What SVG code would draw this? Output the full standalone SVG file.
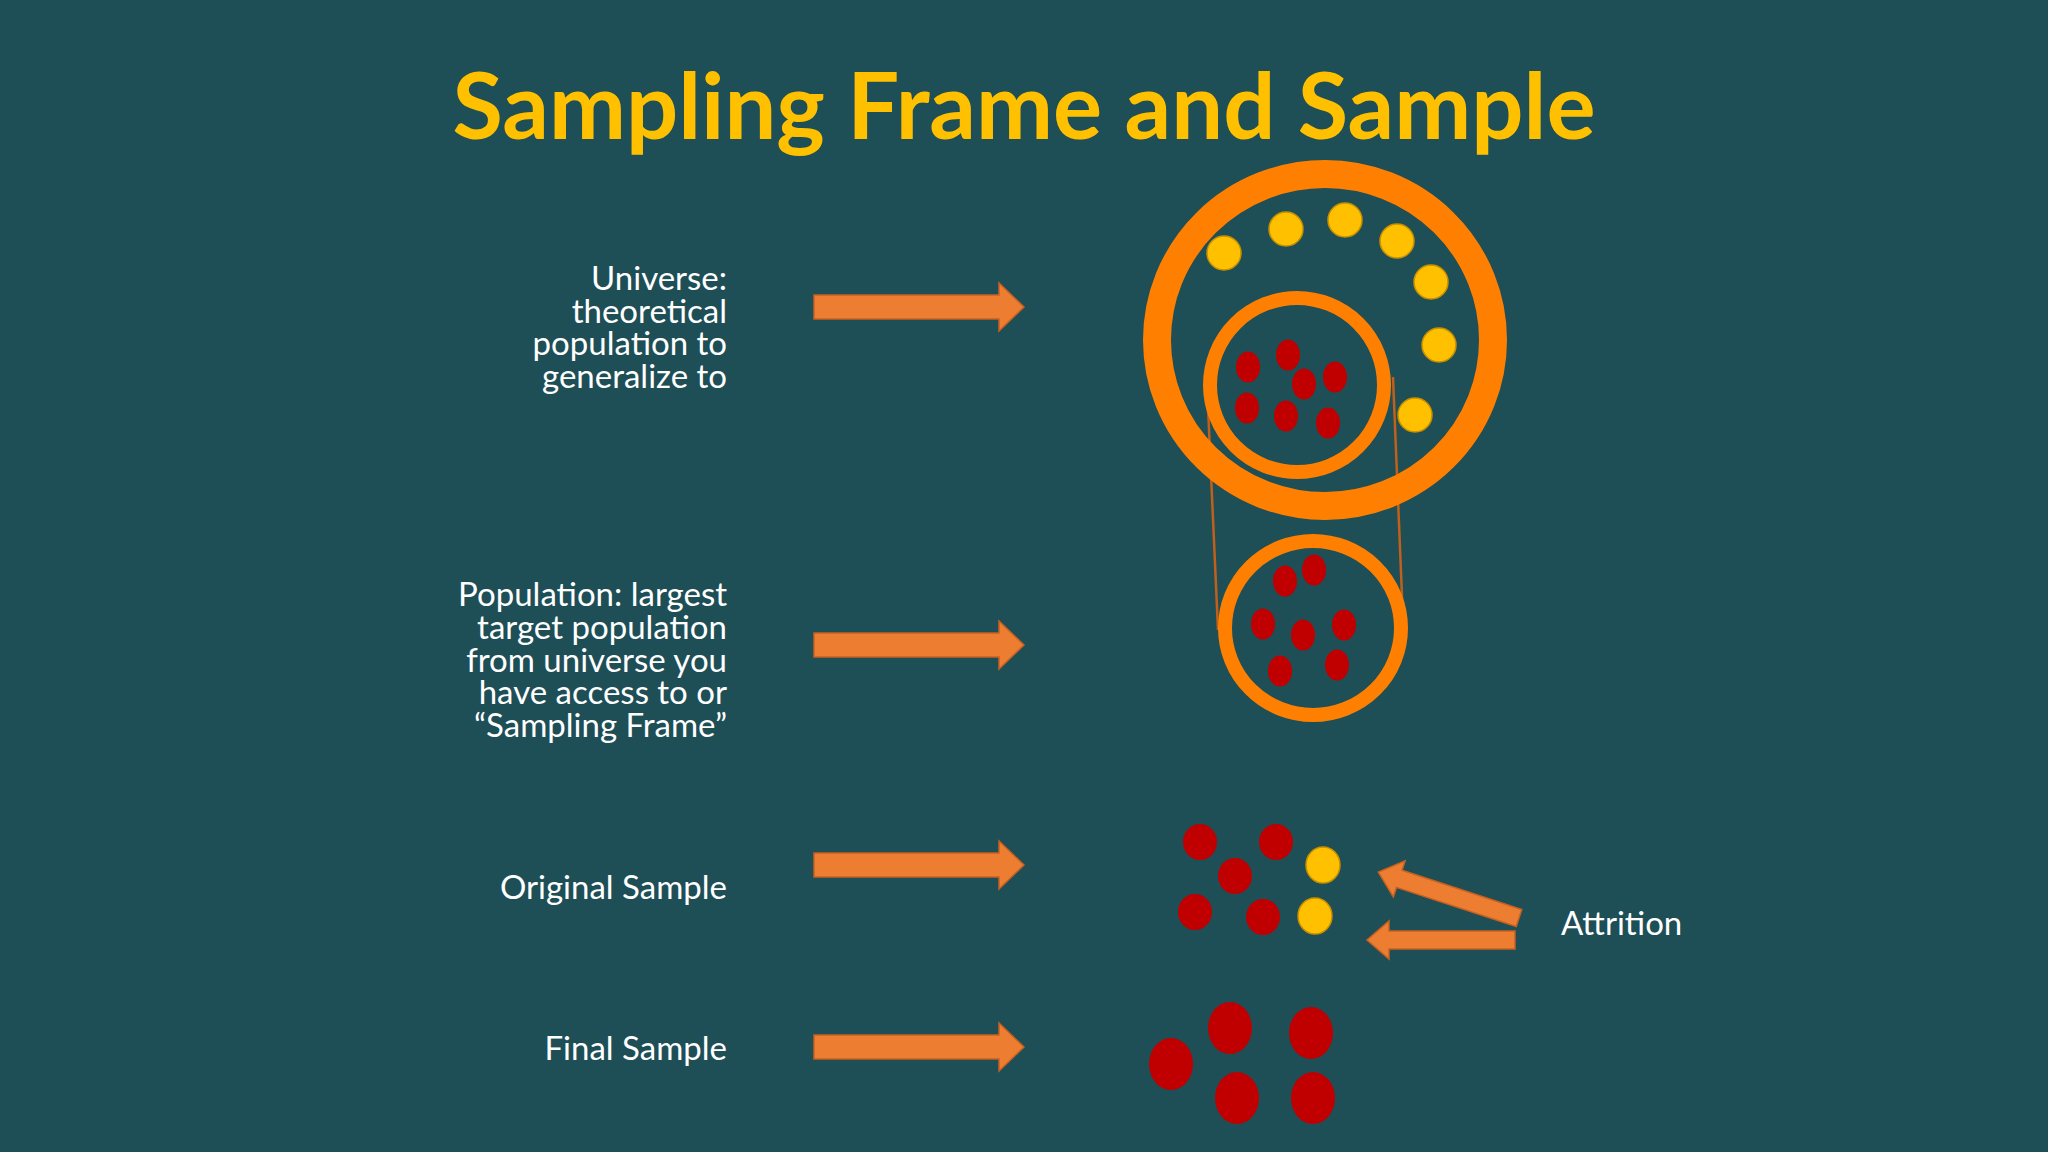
<svg xmlns="http://www.w3.org/2000/svg" width="2048" height="1152" viewBox="0 0 2048 1152">
<defs>
<style>
.lbl{font-family:Lato,"Open Sans",sans-serif;font-size:33px;fill:#ffffff}
.ttl{font-family:Lato,"Open Sans",sans-serif;font-size:92px;font-weight:bold;fill:#FFC000}
.ring{fill:none;stroke:#FF8000}
.y{fill:#FFC000;stroke:#C89000;stroke-width:1.5}
.r{fill:#C00000}
.arr{fill:#ED7D31;stroke:#C86020;stroke-width:1.5}
.ln{stroke:#C0601A;stroke-width:2.5}
</style>
<path id="big" d="M0,-12 H185 V-24 L210,0 L185,24 V12 H0 Z"/>
<path id="sm" d="M0,-9 H126 V-19 L148,0 L126,19 V9 H0 Z"/>
</defs>
<rect width="2048" height="1152" fill="#1E4E56"/>
<text class="ttl" x="1024" y="139" text-anchor="middle">Sampling Frame and Sample</text>
<g id="labels" class="lbl" text-anchor="end">
<text x="727" y="290">Universe:</text>
<text x="727" y="323">theoretical</text>
<text x="727" y="355">population to</text>
<text x="727" y="388">generalize to</text>
<text x="727" y="606">Population: largest</text>
<text x="727" y="639">target population</text>
<text x="727" y="672">from universe you</text>
<text x="727" y="704">have access to or</text>
<text x="727" y="737">“Sampling Frame”</text>
<text x="727" y="899">Original Sample</text>
<text x="727" y="1060">Final Sample</text>
</g>
<g id="attrition-label"><text class="lbl" x="1561" y="935">Attrition</text></g>
<g id="connectors" class="arr">
<use href="#big" x="814" y="307"/>
<use href="#big" x="814" y="645"/>
<use href="#big" x="814" y="865"/>
<use href="#big" x="814" y="1047"/>
<use href="#sm" transform="translate(1519,918) rotate(198.1)"/>
<use href="#sm" transform="translate(1515,940) rotate(180)"/>
<line class="ln" x1="1207" y1="385" x2="1218" y2="630"/>
<line class="ln" x1="1393" y1="377" x2="1403" y2="621"/>
</g>
<g id="universe">
<ellipse class="ring" cx="1325" cy="340" rx="168" ry="166" stroke-width="28"/>
<ellipse class="y" cx="1224" cy="253" rx="17" ry="17"/>
<ellipse class="y" cx="1286" cy="229" rx="17" ry="17"/>
<ellipse class="y" cx="1345" cy="220" rx="17" ry="17"/>
<ellipse class="y" cx="1397" cy="241" rx="17" ry="17"/>
<ellipse class="y" cx="1431" cy="282" rx="17" ry="17"/>
<ellipse class="y" cx="1439" cy="345" rx="17" ry="17"/>
<ellipse class="y" cx="1415" cy="415" rx="17" ry="17"/>
</g>
<g id="frame">
<ellipse class="ring" cx="1297" cy="385" rx="87" ry="87" stroke-width="14"/>
<ellipse class="r" cx="1248" cy="367" rx="12" ry="15.5"/>
<ellipse class="r" cx="1288" cy="355" rx="12" ry="15.5"/>
<ellipse class="r" cx="1304" cy="384" rx="12" ry="15.5"/>
<ellipse class="r" cx="1335" cy="377" rx="12" ry="15.5"/>
<ellipse class="r" cx="1247" cy="408" rx="12" ry="15.5"/>
<ellipse class="r" cx="1286" cy="416" rx="12" ry="15.5"/>
<ellipse class="r" cx="1328" cy="423" rx="12" ry="15.5"/>
</g>
<g id="population">
<ellipse class="ring" cx="1313" cy="628" rx="88" ry="87" stroke-width="14"/>
<ellipse class="r" cx="1285" cy="581" rx="12" ry="15.5"/>
<ellipse class="r" cx="1314" cy="570" rx="12" ry="15.5"/>
<ellipse class="r" cx="1263" cy="624" rx="12" ry="15.5"/>
<ellipse class="r" cx="1303" cy="635" rx="12" ry="15.5"/>
<ellipse class="r" cx="1344" cy="625" rx="12" ry="15.5"/>
<ellipse class="r" cx="1280" cy="671" rx="12" ry="15.5"/>
<ellipse class="r" cx="1337" cy="665" rx="12" ry="15.5"/>
</g>
<g id="original-sample">
<ellipse class="r" cx="1200" cy="842" rx="17" ry="18"/>
<ellipse class="r" cx="1276" cy="842" rx="17" ry="18"/>
<ellipse class="r" cx="1235" cy="876" rx="17" ry="18"/>
<ellipse class="r" cx="1195" cy="912" rx="17" ry="18"/>
<ellipse class="r" cx="1263" cy="917" rx="17" ry="18"/>
<ellipse class="y" cx="1323" cy="865" rx="17" ry="18"/>
<ellipse class="y" cx="1315" cy="916" rx="17" ry="18"/>
</g>
<g id="final-sample">
<ellipse class="r" cx="1171" cy="1064" rx="22" ry="26"/>
<ellipse class="r" cx="1230" cy="1028" rx="22" ry="26"/>
<ellipse class="r" cx="1311" cy="1033" rx="22" ry="26"/>
<ellipse class="r" cx="1237" cy="1098" rx="22" ry="26"/>
<ellipse class="r" cx="1313" cy="1098" rx="22" ry="26"/>
</g>
</svg>
